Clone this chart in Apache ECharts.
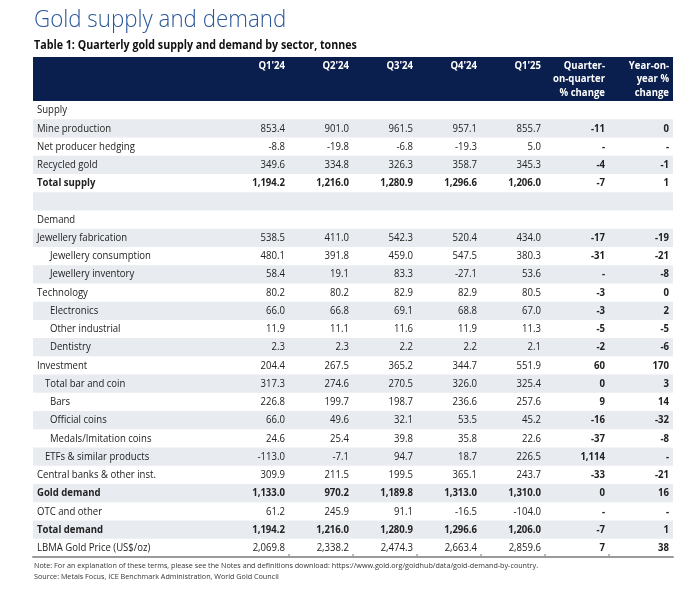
<!DOCTYPE html>
<html>
<head>
<meta charset="utf-8">
<script src="https://cdn.jsdelivr.net/npm/echarts/dist/echarts.min.js"></script>
<style>
  html, body { margin: 0; padding: 0; background: #fff; }
  #main { width: 700px; height: 611px; }
</style>
</head>
<body>
<div id="main"></div>
<script>
var rowLabels = [
  'Supply', 'Mine production', 'Net producer hedging', 'Recycled gold', 'Total supply', '',
  'Demand', 'Jewellery fabrication', 'Jewellery consumption', 'Jewellery inventory',
  'Technology', 'Electronics', 'Other industrial', 'Dentistry',
  'Investment', 'Total bar and coin', 'Bars', 'Official coins', 'Medals/Imitation coins',
  'ETFs & similar products', 'Central banks & other inst.', 'Gold demand', 'OTC and other',
  'Total demand', 'LBMA Gold Price (US$/oz)'
];
var rowIndent = [0, 0, 0, 0, 0, 0, 0, 0, 2, 2, 0, 2, 2, 2, 0, 1, 2, 2, 2, 1, 0, 0, 0, 0, 0];
var boldRows = ['Total supply', 'Gold demand', 'Total demand'];

var headers = ["Q1'24", "Q2'24", "Q3'24", "Q4'24", "Q1'25", 'Quarter-\non-quarter\n% change', 'Year-on-\nyear %\nchange'];

var q1_24 = [null, 853.4, -8.8, 349.6, 1194.2, null, null, 538.5, 480.1, 58.4, 80.2, 66.0, 11.9, 2.3, 204.4, 317.3, 226.8, 66.0, 24.6, -113.0, 309.9, 1133.0, 61.2, 1194.2, 2069.8];
var q2_24 = [null, 901.0, -19.8, 334.8, 1216.0, null, null, 411.0, 391.8, 19.1, 80.2, 66.8, 11.1, 2.3, 267.5, 274.6, 199.7, 49.6, 25.4, -7.1, 211.5, 970.2, 245.9, 1216.0, 2338.2];
var q3_24 = [null, 961.5, -6.8, 326.3, 1280.9, null, null, 542.3, 459.0, 83.3, 82.9, 69.1, 11.6, 2.2, 365.2, 270.5, 198.7, 32.1, 39.8, 94.7, 199.5, 1189.8, 91.1, 1280.9, 2474.3];
var q4_24 = [null, 957.1, -19.3, 358.7, 1296.6, null, null, 520.4, 547.5, -27.1, 82.9, 68.8, 11.9, 2.2, 344.7, 326.0, 236.6, 53.5, 35.8, 18.7, 365.1, 1313.0, -16.5, 1296.6, 2663.4];
var q1_25 = [null, 855.7, 5.0, 345.3, 1206.0, null, null, 434.0, 380.3, 53.6, 80.5, 67.0, 11.3, 2.1, 551.9, 325.4, 257.6, 45.2, 22.6, 226.5, 243.7, 1310.0, -104.0, 1206.0, 2859.6];
var qoq = [null, -11, '-', -4, -7, null, null, -17, -31, '-', -3, -3, -5, -2, 60, 0, 9, -16, -37, 1114, -33, 0, '-', -7, 7];
var yoy = [null, 0, '-', -1, 1, null, null, -19, -21, -8, 0, 2, -5, -6, 170, 3, 14, -32, -8, '-', -21, 16, '-', 1, 38];

var columns = [q1_24, q2_24, q3_24, q4_24, q1_25, qoq, yoy];
var pctCols = 2;

var FONT = '"Open Sans", "Noto Sans", sans-serif';
var NAVY = '#0b1f4e';
var BAND = '#e8ebf0';
var TEXT = '#222222';
var SQUEEZE = 0.87; // the source font is narrower than Open Sans

function fmt(v, decimals) {
  if (v === null || v === undefined) return '';
  if (typeof v === 'string') return v;
  return v.toLocaleString('en-US', {
    minimumFractionDigits: decimals,
    maximumFractionDigits: decimals
  });
}

function label(x, y, text, opts) {
  return {
    type: 'text',
    x: x,
    y: y,
    scaleX: opts.scale || SQUEEZE,
    silent: true,
    style: {
      text: text,
      align: opts.align || 'left',
      verticalAlign: opts.verticalAlign || 'middle',
      fill: opts.fill || TEXT,
      font: opts.font,
      lineHeight: opts.lineHeight
    }
  };
}

var chart = echarts.init(document.getElementById('main'), null, { renderer: 'canvas' });

chart.setOption({
  animation: false,
  backgroundColor: '#ffffff',
  graphic: [
    label(34, 8, 'Gold supply and demand', {
      verticalAlign: 'top', scale: 0.93, fill: '#2a5699', font: '300 24px ' + FONT
    }),
    label(34, 40, 'Table 1: Quarterly gold supply and demand by sector, tonnes', {
      verticalAlign: 'top', scale: 0.89, fill: '#111111', font: 'bold 12px ' + FONT
    }),
    label(34, 566, 'Note: For an explanation of these terms, please see the Notes and definitions download: https://www.gold.org/goldhub/data/gold-demand-by-country.', {
      scale: 0.9, fill: '#333333', font: '8px ' + FONT
    }),
    label(34, 577, 'Source: Metals Focus, ICE Benchmark Administration, World Gold Council', {
      scale: 0.9, fill: '#333333', font: '8px ' + FONT
    })
  ],
  grid: [
    { left: 33, right: 27, top: 57, height: 44 },
    { left: 33, right: 27, top: 101, height: 456 }
  ],
  xAxis: [
    { gridIndex: 0, type: 'value', min: -3, max: 7, interval: 1, show: false },
    {
      gridIndex: 1, type: 'value', min: -3, max: 7, interval: 1, position: 'bottom',
      axisLine: { show: true, lineStyle: { color: '#9a9a9a', width: 2 } },
      axisTick: { show: false },
      axisLabel: { show: false },
      splitLine: { show: false }
    }
  ],
  yAxis: [
    { gridIndex: 0, type: 'category', data: ['header'], show: false },
    { gridIndex: 1, type: 'category', data: rowLabels, inverse: true, show: false }
  ],
  series: [
    {
      type: 'custom',
      xAxisIndex: 0,
      yAxisIndex: 0,
      data: [[0, 0]],
      renderItem: function (params, api) {
        var l = api.coord([-3, 0]);
        var r = api.coord([7, 0]);
        var h = api.size([0, 1])[1];
        var top = l[1] - h / 2;
        var children = [{
          type: 'rect',
          shape: { x: l[0], y: top, width: r[0] - l[0], height: h },
          style: { fill: NAVY }
        }];
        headers.forEach(function (txt, c) {
          var x = api.coord([c + 1, 0])[0] - 4;
          children.push(label(x, top + 2, txt, {
            align: 'right', verticalAlign: 'top', fill: '#ffffff',
            font: 'bold 11px ' + FONT, lineHeight: 13.5
          }));
        });
        return { type: 'group', children: children };
      }
    },
    {
      type: 'custom',
      xAxisIndex: 1,
      yAxisIndex: 1,
      data: rowLabels.map(function (l, i) { return [0, i]; }),
      renderItem: function (params, api) {
        var row = api.value(1);
        var l = api.coord([-3, row]);
        var r = api.coord([7, row]);
        var h = api.size([0, 1])[1];
        var cy = l[1];
        var bold = boldRows.indexOf(rowLabels[row]) >= 0;
        var children = [];
        if (row % 2 === 1) {
          children.push({
            type: 'rect',
            shape: { x: l[0], y: cy - h / 2, width: r[0] - l[0], height: h },
            style: { fill: BAND }
          });
        }
        children.push(label(l[0] + [4, 12, 17][rowIndent[row]], cy, rowLabels[row], {
          font: (bold ? 'bold ' : '') + '11px ' + FONT
        }));
        columns.forEach(function (col, c) {
          var isPct = c >= columns.length - pctCols;
          var x = api.coord([c + 1, row])[0] - 4;
          children.push(label(x, cy, fmt(col[row], isPct ? 0 : 1), {
            align: 'right',
            font: ((bold || isPct) ? 'bold ' : '') + '11px ' + FONT
          }));
        });
        // small column marks sitting on the bottom rule
        if (row === rowLabels.length - 1) {
          for (var c = 1; c < columns.length; c++) {
            var bx = api.coord([c, row])[0];
            children.push({
              type: 'rect',
              shape: { x: bx - 0.5, y: cy + h / 2 - 3, width: 1, height: 2 },
              style: { fill: '#777777' }
            });
          }
        }
        return { type: 'group', children: children };
      }
    }
  ]
});
</script>
</body>
</html>
